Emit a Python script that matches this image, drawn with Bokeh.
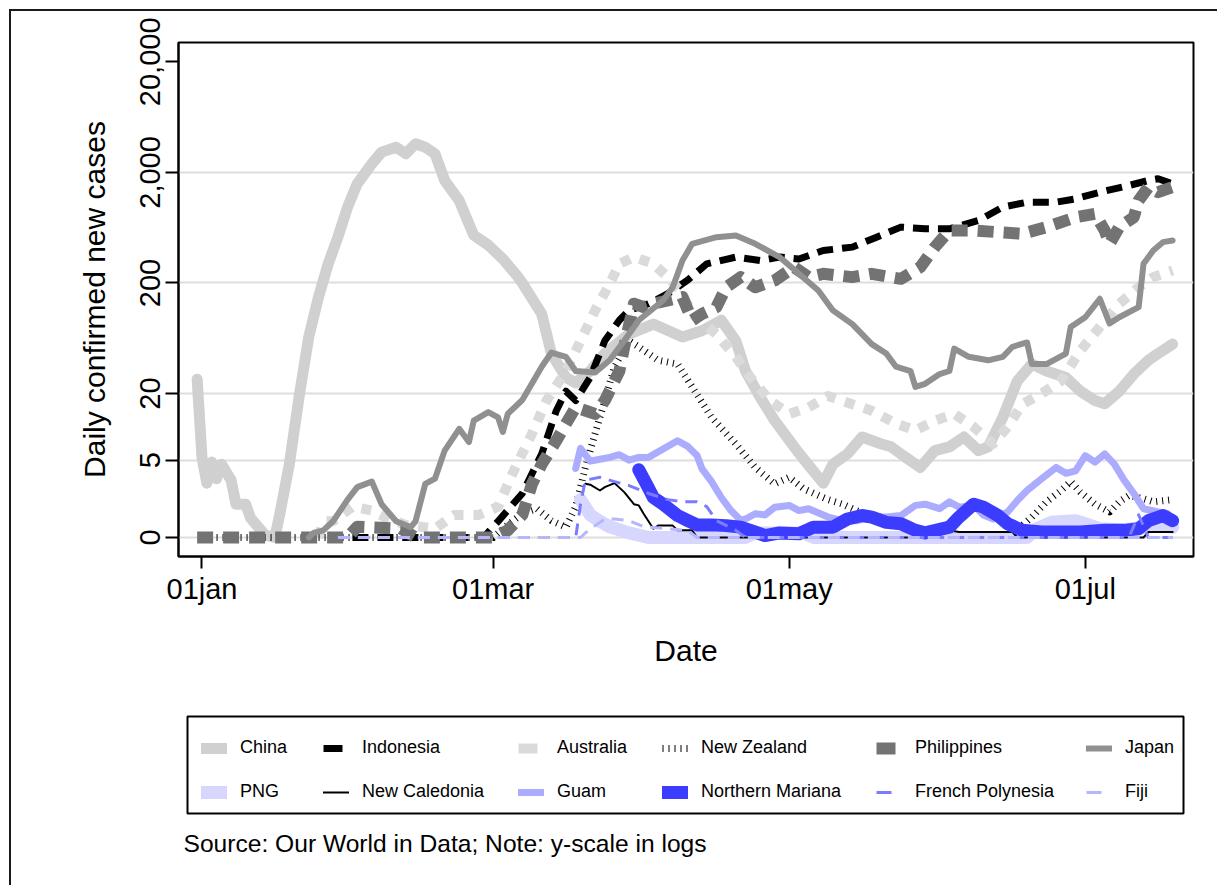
import numpy as np
from bokeh.plotting import figure
from bokeh.layouts import column
from bokeh.models import Range1d, FixedTicker, Legend, LegendItem, Label
from bokeh.embed import file_html
from bokeh.resources import INLINE

FONT = "Liberation Sans"

# x = days since 1 Jan 2020 ; values = 7-day average of daily confirmed cases
china_day = [-1, 0, 1, 2, 3, 4, 6, 7, 9, 10, 13, 15, 16, 18, 20, 22, 24, 26, 28, 30, 32, 35, 37, 40, 42, 44, 46, 48, 50, 53, 56, 59, 62, 65, 66, 70, 72, 75, 77, 80, 83, 88, 93, 99, 103, 107, 110, 112, 115, 118, 122, 125, 128, 130, 133, 136, 140, 142, 145, 148, 151, 154, 157, 160, 162, 165, 168, 171, 174, 178, 181, 184, 186, 189, 192, 195, 197, 200]
china_val = [27, 5.3, 3.1, 4.8, 3.4, 4.6, 3.3, 2.0, 2.0, 1.5, 1.05, 0, 1.6, 4.6, 18.6, 65, 149, 298, 519, 970, 1580, 2390, 3050, 3380, 2950, 3630, 3380, 2950, 1690, 1114, 540, 440, 330, 230, 200, 105, 46, 28, 25, 32, 46, 69, 85, 65, 74, 92, 60, 32, 18.6, 11.4, 6.6, 4.5, 3.1, 4.6, 5.7, 8.1, 7.0, 6.6, 5.3, 4.3, 6.1, 6.6, 8.1, 6.1, 6.6, 12.2, 26, 37, 32, 28, 21, 17.3, 16.2, 21, 30, 40, 46, 56]

indo_day = [31, 58, 61, 66, 70, 73, 75, 77, 80, 83, 86, 88, 92, 96, 100, 104, 110, 115, 119, 123, 128, 134, 139, 144, 149, 154, 160, 165, 170, 176, 180, 185, 191, 195, 197, 200]
indo_val = [0, 0, 1.4, 2.5, 5.7, 14, 21, 17.3, 28, 60, 92, 113, 130, 160, 211, 298, 343, 319, 343, 330, 393, 422, 519, 640, 618, 618, 735, 970, 1076, 1076, 1153, 1325, 1523, 1690, 1750, 1578]

aus_day = [24, 25, 27, 31, 35, 38, 42, 48, 52, 57, 61, 64, 68, 71, 75, 78, 81, 84, 86, 89, 93, 96, 99, 101, 106, 110, 113, 117, 121, 125, 129, 134, 138, 143, 147, 151, 155, 159, 163, 166, 169, 173, 177, 181, 185, 189, 193, 196, 200]
aus_val = [0, 1.4, 1.4, 1.9, 1.75, 1.5, 1.3, 1.2, 1.6, 1.6, 1.9, 3.8, 8.7, 17.3, 32, 60, 113, 196, 298, 343, 298, 226, 160, 105, 69, 43, 28, 17.3, 13.1, 15, 19, 16, 14, 10.7, 9.3, 11.4, 13.1, 10, 7, 10, 16, 20, 26, 49, 80, 130, 183, 226, 260]

nz_day = [3, 60, 63, 66, 69, 72, 75, 77, 79, 81, 83, 85, 88, 90, 94, 98, 101, 105, 110, 114, 118, 121, 124, 127, 129, 132, 134, 137, 140, 143, 145, 147, 148, 167, 169, 171, 174, 177, 179, 181, 184, 187, 189, 191, 194, 196, 200]
nz_val = [0, 0, 1.3, 1.64, 1.82, 1.42, 1.24, 1.9, 4.3, 8.7, 17.3, 35, 60, 53, 40, 37, 23, 12.2, 7, 4.3, 3.05, 3.5, 2.75, 2.4, 2.2, 2.0, 1.82, 1.58, 1.53, 1.47, 1.33, 1.1, 0, 0, 1.28, 1.53, 2.1, 2.66, 3.2, 2.57, 2.0, 1.7, 2.1, 2.4, 2.24, 2.1, 2.2]

phil_day = [-1, 30, 32, 41, 44, 60, 63, 66, 68, 70, 73, 75, 77, 81, 83, 86, 87, 89, 91, 93, 96, 99, 101, 103, 106, 108, 111, 114, 118, 122, 125, 128, 134, 138, 144, 148, 151, 154, 159, 164, 169, 174, 180, 184, 186, 187, 189, 192, 193, 195, 197, 200]
phil_val = [0, 0, 1.25, 1.2, 0, 0, 1.16, 1.6, 3.05, 4.6, 7.5, 10.7, 15, 13.1, 17.3, 32, 53, 130, 121, 130, 139, 149, 92, 105, 121, 183, 226, 183, 211, 278, 226, 242, 226, 242, 218, 278, 422, 597, 597, 576, 557, 640, 787, 844, 597, 452, 640, 787, 1114, 1472, 1325, 1472]

japan_day = [22, 23, 25, 27, 30, 32, 35, 37, 40, 43, 44, 46, 48, 50, 53, 55, 56, 59, 61, 62, 63, 66, 70, 72, 75, 77, 81, 84, 87, 90, 95, 97, 99, 101, 106, 110, 114, 119, 123, 127, 130, 134, 136, 138, 141, 143, 146, 147, 149, 152, 154, 155, 158, 162, 165, 167, 170, 171, 174, 178, 179, 182, 185, 187, 189, 193, 194, 196, 198, 200]
japan_val = [0, 1.1, 1.16, 1.4, 2.2, 2.85, 3.2, 2.0, 1.4, 1.24, 1.4, 3.05, 3.4, 6.1, 9.6, 7.3, 11.4, 13.6, 12.2, 9.0, 13.1, 17.5, 35, 47, 43, 32, 31, 40, 60, 92, 139, 183, 319, 452, 519, 537, 452, 343, 242, 171, 113, 85, 69, 56, 46, 35, 32, 23, 24.5, 30, 32, 51, 43, 40, 43, 53, 58, 37, 37, 46, 80, 98, 144, 86, 98, 121, 298, 393, 468, 485]

png_day = [78, 80, 82, 84, 88, 92, 112, 114, 124, 126, 170, 172, 175, 180, 182, 185, 190, 194, 198, 200]
png_val = [2.2, 1.6, 1.4, 1.25, 1.1, 0, 0, 1.1, 1.1, 0, 0, 1.2, 1.37, 1.42, 1.33, 1.2, 1.17, 1.24, 1.28, 1.24]

nc_day = [79, 80, 82, 83, 85, 87, 89, 90, 91, 93, 94, 97, 98, 101, 102, 148, 149, 152, 156, 167, 168, 194, 195, 200]
nc_val = [3.06, 3.0, 2.66, 2.85, 3.1, 2.57, 2.0, 1.95, 1.64, 1.2, 1.28, 1.28, 1.16, 1.16, 0, 0, 1.12, 1.2, 1.12, 1.12, 0, 0, 1.12, 1.12]

guam_day = [77, 78, 80, 82, 84, 86, 88, 90, 92, 95, 98, 100, 102, 103, 105, 107, 109, 111, 112, 114, 116, 118, 121, 123, 125, 129, 132, 135, 138, 141, 144, 147, 149, 152, 154, 156, 159, 161, 163, 166, 168, 170, 173, 176, 178, 180, 182, 184, 186, 188, 190, 192, 194, 197, 199, 200]
guam_val = [4.2, 6.4, 4.9, 5.1, 5.3, 5.6, 5.0, 5.3, 5.3, 6.3, 7.5, 6.7, 5.5, 4.2, 3.2, 2.3, 1.75, 1.43, 1.47, 1.64, 1.6, 1.88, 1.95, 1.75, 1.82, 1.53, 1.42, 1.42, 1.53, 1.53, 1.58, 1.95, 2.0, 1.82, 2.1, 1.88, 1.95, 1.6, 1.47, 1.7, 2.16, 2.66, 3.4, 4.3, 3.8, 4.0, 5.5, 4.8, 5.7, 4.6, 3.3, 2.5, 1.82, 1.7, 1.64, 1.42]

nm_day = [90, 92, 93, 95, 98, 100, 102, 105, 108, 111, 113, 116, 119, 123, 126, 130, 133, 136, 138, 141, 144, 147, 149, 154, 156, 159, 161, 164, 166, 169, 173, 181, 186, 190, 193, 195, 198, 200]
nm_val = [4.1, 2.8, 2.3, 2.0, 1.58, 1.43, 1.3, 1.3, 1.28, 1.24, 1.16, 1.04, 1.1, 1.08, 1.24, 1.24, 1.47, 1.58, 1.53, 1.37, 1.33, 1.16, 1.1, 1.24, 1.53, 2.0, 1.88, 1.58, 1.33, 1.16, 1.12, 1.12, 1.16, 1.16, 1.2, 1.42, 1.58, 1.42]

fp_day = [28, 77, 78, 79, 82, 85, 88, 92, 96, 99, 102, 104, 106, 110, 112, 191, 193, 195, 200]
fp_val = [0, 0, 2.0, 3.3, 3.5, 3.2, 2.95, 2.5, 2.2, 2.1, 2.1, 1.9, 1.42, 1.16, 0, 0, 1.6, 0, 0]

fiji_day = [28, 78, 79, 81, 83, 85, 88, 91, 96, 100, 102, 200]
fiji_val = [0, 0, 1.1, 1.28, 1.47, 1.47, 1.42, 1.25, 1.2, 1.16, 0, 0]

y_ticks = [1, 5, 20, 200, 2000, 20000]
y_tick_labels = ["0", "5", "20", "200", "2,000", "20,000"]
x_ticks = [0, 60, 121, 182]
x_tick_labels = ["01jan", "01mar", "01may", "01jul"]

series = [
    ("China", china_day, china_val, dict(line_color="#d0d0d0", line_width=11)),
    ("Indonesia", indo_day, indo_val, dict(line_color="#000000", line_width=7, line_dash="16 9", line_cap="butt")),
    ("Australia", aus_day, aus_val, dict(line_color="#dadada", line_width=10, line_dash="10 10", line_cap="butt")),
    ("New Zealand", nz_day, nz_val, dict(line_color="#000000", line_width=7, line_dash="1 5", line_cap="butt")),
    ("Philippines", phil_day, phil_val, dict(line_color="#737373", line_width=12, line_dash="16 10", line_cap="butt")),
    ("Japan", japan_day, japan_val, dict(line_color="#909090", line_width=6)),
    ("PNG", png_day, png_val, dict(line_color="#d6d6ff", line_width=13)),
    ("New Caledonia", nc_day, nc_val, dict(line_color="#000000", line_width=2)),
    ("Guam", guam_day, guam_val, dict(line_color="#acacff", line_width=7)),
    ("Northern Mariana", nm_day, nm_val, dict(line_color="#3c3cff", line_width=13)),
    ("French Polynesia", fp_day, fp_val, dict(line_color="#7c7cff", line_width=3, line_dash="12 8", line_cap="butt")),
    ("Fiji", fiji_day, fiji_val, dict(line_color="#b6b6ff", line_width=3, line_dash="12 8", line_cap="butt")),
]

# legend keys show a single dash for the dashed styles
swatch_dash = {"Indonesia": "19 30", "Australia": "19 30", "Philippines": "19 30",
               "French Polynesia": "15 30", "Fiji": "15 30"}

W = 1217
H_TOP = 700
H_BOT = 185
FL, FR = 178, 1193          # frame left / right in page pixels (shared by both figures)

# ---------------- main chart ----------------
p = figure(frame_width=FR - FL, frame_height=514,
           x_range=Range1d(-4.84, 204.3), y_range=Range1d(0.673, 29890),
           y_axis_type="log", output_backend="svg", toolbar_location=None,
           min_border_left=FL, min_border_right=W - FR, min_border_top=42,
           min_border_bottom=H_TOP - 42 - 514,
           background_fill_color="white", border_fill_color="white")
p.border_fill_alpha = 0
p.outline_line_color = "black"
p.outline_line_width = 2
p.xgrid.visible = False
p.ygrid.ticker = FixedTicker(ticks=y_ticks[:-1])
p.ygrid.grid_line_color = "#dedede"
p.ygrid.grid_line_width = 2

for name, d, v, st in series:
    yv = np.maximum(np.asarray(v, dtype=float), 1.0)  # zero drawn on the "0" line
    kw = dict(line_join="round", line_cap="round")
    kw.update(st)
    p.line(np.asarray(d, dtype=float), yv, **kw)

for ax in (p.xaxis[0], p.yaxis[0]):
    ax.axis_line_width = 2
    ax.axis_line_color = "black"
    ax.major_tick_in = 0
    ax.major_tick_line_width = 2
    ax.minor_tick_line_color = None
    ax.major_label_text_font = FONT
    ax.major_label_text_font_size = "29px"
    ax.major_label_text_color = "black"
    ax.axis_label_text_font = FONT
    ax.axis_label_text_font_size = "30px"
    ax.axis_label_text_font_style = "normal"
    ax.axis_label_text_color = "black"

p.xaxis.ticker = FixedTicker(ticks=x_ticks, minor_ticks=[])
p.xaxis.major_label_overrides = {t: s for t, s in zip(x_ticks, x_tick_labels)}
p.xaxis.major_tick_out = 12
p.xaxis.major_label_standoff = 4
p.xaxis.axis_label = "Date"
p.xaxis.axis_label_standoff = 26

p.yaxis.ticker = FixedTicker(ticks=y_ticks, minor_ticks=[])
p.yaxis.major_label_overrides = {t: s for t, s in zip(y_ticks, y_tick_labels)}
p.yaxis.major_label_orientation = "vertical"
p.yaxis.major_tick_out = 13
p.yaxis.major_label_standoff = 5
p.yaxis.axis_label = "Daily confirmed new cases"
p.yaxis.axis_label_standoff = 27

# ---------------- legend + note panel (data units = page pixels) ----------------
q = figure(frame_width=FR - FL, height=H_BOT, x_range=Range1d(FL, FR), y_range=Range1d(0, H_BOT),
           x_axis_location=None, y_axis_location=None,
           min_border_left=FL, min_border_right=W - FR, min_border_top=0, min_border_bottom=0,
           output_backend="svg", toolbar_location=None)
q.grid.visible = False
q.outline_line_color = None
q.background_fill_alpha = 0
q.border_fill_alpha = 0

swatch = {}
for name, d, v, st in series:
    kw = dict(line_join="round", line_cap="round")
    kw.update(st)
    if name in swatch_dash:
        kw["line_dash"] = swatch_dash[name]
    swatch[name] = q.line(x=[-5000, -4990], y=[-5000, -5000], **kw)   # off-view, legend key only

# legend frame (page y 716..813 -> panel y measured from bottom at 885)
q.quad(left=[187], right=[1183], bottom=[885 - 813], top=[885 - 716],
       fill_color=None, line_color="black", line_width=2)

legend_cols = [
    (201, ["China", "PNG"]),
    (323, ["Indonesia", "New Caledonia"]),
    (518, ["Australia", "Guam"]),
    (662, ["New Zealand", "Northern Mariana"]),
    (876, ["Philippines", "French Polynesia"]),
    (1086, ["Japan", "Fiji"]),
]
for x0, names in legend_cols:
    lg = Legend(items=[LegendItem(label=n, renderers=[swatch[n]]) for n in names],
                orientation="vertical", location=(x0 - FL, 885 - 802),
                glyph_width=26, glyph_height=20, label_height=20, label_standoff=13,
                spacing=23, padding=0, margin=0,
                label_text_font=FONT, label_text_font_size="18px", label_text_color="black",
                border_line_color=None, background_fill_alpha=0)
    q.add_layout(lg, "center")

q.add_layout(Label(x=183, y=885 - 843, text="Source: Our World in Data; Note: y-scale in logs",
                   text_font=FONT, text_font_size="24.6px", text_color="black",
                   text_align="left", text_baseline="middle"))

layout = column(p, q, spacing=0)
layout.styles = {
    "background-color": "white",
    "background-image": "linear-gradient(#1a1a1a, #1a1a1a), linear-gradient(#1a1a1a, #1a1a1a)",
    "background-size": "2px 100%, 100% 2px",
    "background-position": "9px 9px, 9px 9px",
    "background-repeat": "no-repeat",
}

open("out.html", "w").write(file_html(layout, INLINE))
